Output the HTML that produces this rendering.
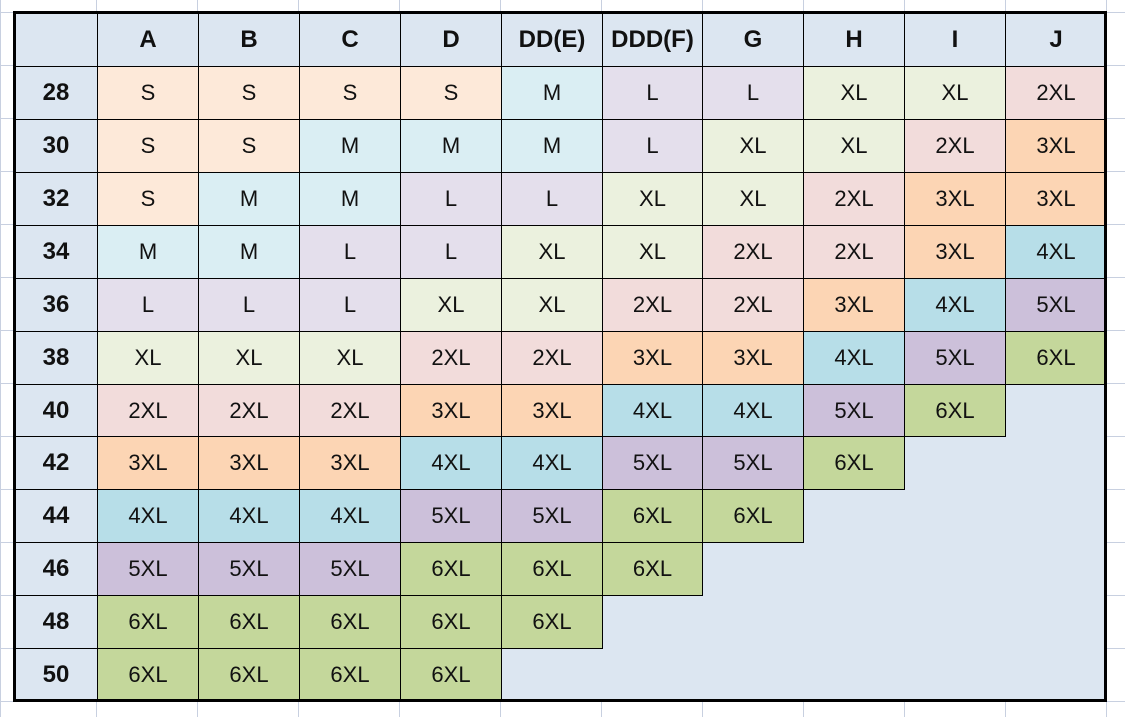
<!DOCTYPE html>
<html><head><meta charset="utf-8"><style>
body{margin:0;width:1125px;height:717px;background:#fff;position:relative;overflow:hidden;font-family:"Liberation Sans",sans-serif}
.g{position:absolute;background:#c8d0e0}
.c{position:absolute;box-sizing:border-box;display:flex;align-items:center;justify-content:center;font-size:22px;color:#111}
.h{font-weight:bold;font-size:24px}
</style></head><body>
<div id="root"></div>
<script>
var root=document.getElementById('root');
function add(h){root.insertAdjacentHTML('beforeend',h);}
// gridlines
var xs=[0,96,197,298,399,500,601,702,803,904,1005,1106];
xs.forEach(function(x){add('<div class="g" style="left:'+x+'px;top:0;width:1px;height:717px"></div>');});
for(var y=12;y<717;y+=53){add('<div class="g" style="left:0;top:'+y+'px;width:1125px;height:1px"></div>');}
add('<div class="g" style="left:0;top:65px;width:1125px;height:1px"></div>');
add('<div style="position:absolute;left:14px;top:12px;width:1092px;height:689px;background:#dce6f1"></div>');
var col={S:'#fde9d9',M:'#daeef3',L:'#e4dfec',XL:'#ebf1de','2XL':'#f2dcdb','3XL':'#fcd5b4','4XL':'#b7dee8','5XL':'#ccc0da','6XL':'#c4d79b'};
var heads=['A','B','C','D','DD(E)','DDD(F)','G','H','I','J'];
var rows=[[28,'S S S S M L L XL XL 2XL'],[30,'S S M M M L XL XL 2XL 3XL'],[32,'S M M L L XL XL 2XL 3XL 3XL'],[34,'M M L L XL XL 2XL 2XL 3XL 4XL'],[36,'L L L XL XL 2XL 2XL 3XL 4XL 5XL'],[38,'XL XL XL 2XL 2XL 3XL 3XL 4XL 5XL 6XL'],[40,'2XL 2XL 2XL 3XL 3XL 4XL 4XL 5XL 6XL'],[42,'3XL 3XL 3XL 4XL 4XL 5XL 5XL 6XL'],[44,'4XL 4XL 4XL 5XL 5XL 6XL 6XL'],[46,'5XL 5XL 5XL 6XL 6XL 6XL'],[48,'6XL 6XL 6XL 6XL 6XL'],[50,'6XL 6XL 6XL 6XL']];
function cx(i){return i==0?14:Math.round(97+(i-1)*100.9);}
function cy(j){return j==0?12:Math.round(66+(j-1)*52.92);}
function cell(i,j,bg,txt,cls){var x=cx(i),y=cy(j),w=cx(i+1)-x,h=cy(j+1)-y;
add('<div class="c '+cls+'" style="left:'+x+'px;top:'+y+'px;width:'+(w+1)+'px;height:'+(h+1)+'px;background:'+bg+';border:1px solid #000">'+txt+'</div>');}
cell(0,0,'#dce6f1','','h');
heads.forEach(function(t,i){cell(i+1,0,'#dce6f1',t,'h');});
rows.forEach(function(r,j){cell(0,j+1,'#dce6f1',r[0],'h');r[1].split(' ').forEach(function(s,i){cell(i+1,j+1,col[s],s,'');});});
add('<div style="position:absolute;left:13px;top:11px;width:1094px;height:691px;box-sizing:border-box;border:3px solid #000"></div>');
</script>
</body></html>
